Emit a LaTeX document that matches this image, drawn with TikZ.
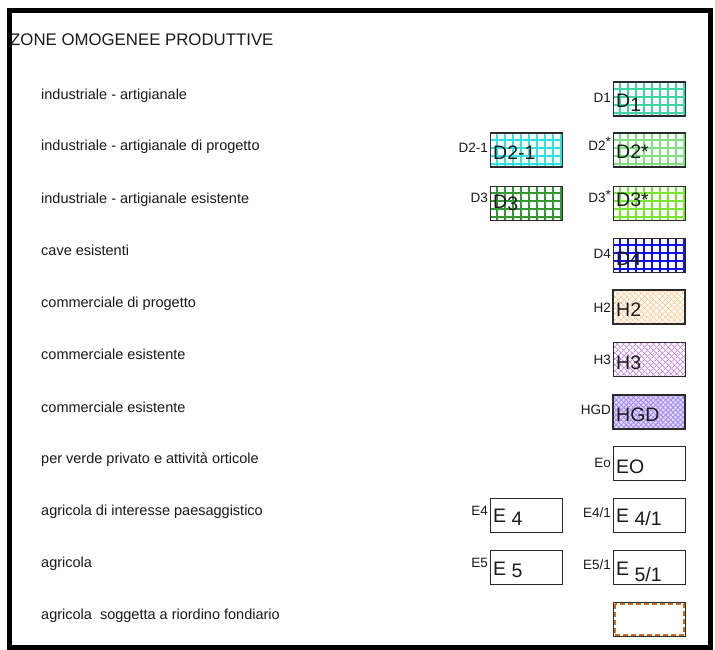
\documentclass[tikz,border=0pt]{standalone}
\usepackage{fontspec}
\setmainfont{Liberation Sans}
\usetikzlibrary{patterns.meta}
\definecolor{boxc}{HTML}{2A2A2A}
\definecolor{cDa}{HTML}{3DD6A3}
\definecolor{cDb}{HTML}{33E0E0}
\definecolor{cDc}{HTML}{7FE07F}
\definecolor{cDd}{HTML}{339933}
\definecolor{cDe}{HTML}{77E633}
\definecolor{cDf}{HTML}{1010F0}
\definecolor{cHa}{HTML}{FFC98F}
\definecolor{cHb}{HTML}{CC8EE8}
\definecolor{cHc}{HTML}{A48CF4}
\definecolor{cHcbg}{HTML}{E2DAFC}
\definecolor{dashc}{HTML}{D2691E}
\definecolor{txt}{HTML}{1A1A1A}
\begin{document}
\begin{tikzpicture}[x=1pt,y=-1pt,
  zbox/.style={draw=boxc, line width=1.5pt, minimum width=72pt, minimum height=34pt, inner sep=0pt, anchor=north west},
  lbl/.style={anchor=base west, font=\fontsize{14.5}{17}\selectfont, inner sep=0pt, text=txt},
  tag/.style={anchor=base east, font=\fontsize{13.5}{16}\selectfont, inner sep=0pt, text=txt},
  big/.style={anchor=base west, font=\fontsize{19.5}{22}\selectfont, inner sep=0pt, text=txt},
  title/.style={anchor=base west, font=\fontsize{16.8}{19}\selectfont, inner sep=0pt, text=txt},
  grid fill/.style={path picture={
    \foreach \i in {1,...,9} \draw[#1,line width=1.6pt] ([xshift=\i*8pt-1pt]path picture bounding box.north west) -- ([xshift=\i*8pt-1pt]path picture bounding box.south west);
    \foreach \j in {1,...,4} \draw[#1,line width=1.6pt] ([yshift=-\j*8pt+1pt]path picture bounding box.north west) -- ([yshift=-\j*8pt+1pt]path picture bounding box.north east);
  }},
  hatch/.style 2 args={preaction={pattern={Lines[angle=45,distance=#2,line width=0.9pt]},pattern color=#1}, pattern={Lines[angle=-45,distance=#2,line width=0.9pt]}, pattern color=#1},
]
\useasboundingbox (0,0) rectangle (715,650);
\fill[white] (0,0) rectangle (715,650);
% frame
\draw[line width=5pt] (9.5,10.5) rectangle (710.5,647.5);
% title
\node[title] (ttl) at (10,46) {ZONE OMOGENEE PRODUTTIVE};
% left labels
\node[lbl] (l1) at (41,99.5) {industriale - artigianale};
\node[lbl] (l2) at (41,150.5) {industriale - artigianale di progetto};
\node[lbl] (l3) at (41,203.5) {industriale - artigianale esistente};
\node[lbl] (l4) at (41,255.5) {cave esistenti};
\node[lbl] (l5) at (41,307.5) {commerciale di progetto};
\node[lbl] (l6) at (41,359.5) {commerciale esistente};
\node[lbl] (l7) at (41,412) {commerciale esistente};
\node[lbl] (l8) at (41,463.5) {per verde privato e attività orticole};
\node[lbl] (l9) at (41,515.5) {agricola di interesse paesaggistico};
\node[lbl] (l10) at (41,567.5) {agricola};
\node[lbl] (l11) at (41,619.5) {agricola\ \ soggetta a riordino fondiario};
% row 1
\node[zbox, grid fill=cDa] (d1) at (612.5,81.5) {};
\node[big] (d1t) at (616,108) {D\raisebox{-4pt}{1}};
\node[tag] (d1g) at (611,103) {D1};
% row 2
\node[zbox, grid fill=cDb] (d21) at (489.5,132.5) {};
\node[big] (d21t) at (493,160) {D2-1};
\node[tag] (d21g) at (488,153) {D2-1};
\node[zbox, grid fill=cDc] (d2s) at (612.5,132.5) {};
\node[big] (d2st) at (616,158) {D2*};
\node[tag] (d2sg) at (611,150) {D2\raisebox{3pt}{*}};
% row 3
\node[zbox, grid fill=cDd] (d3) at (489.5,185.5) {};
\node[big] (d3t) at (493,208) {D\raisebox{-2pt}{3}};
\node[tag] (d3g) at (488,202.5) {D3};
\node[zbox, grid fill=cDe] (d3s) at (612.5,185.5) {};
\node[big] (d3st) at (616,207) {D3*};
\node[tag] (d3sg) at (611,202.5) {D3\raisebox{3pt}{*}};
% row 4
\node[zbox, grid fill=cDf] (d4) at (612.5,237.5) {};
\node[big] (d4t) at (616,265) {D4};
\node[tag] (d4g) at (611,258) {D4};
% row 5
\node[zbox, hatch={cHa}{4pt}] (h2) at (612.5,289.5) {};
\node[big] (h2t) at (616,316) {H2};
\node[tag] (h2g) at (611,312) {H2};
% row 6
\node[zbox, hatch={cHb}{4pt}] (h3) at (612.5,341.5) {};
\node[big] (h3t) at (616,369) {H3};
\node[tag] (h3g) at (611,364) {H3};
% row 7
\node[zbox, preaction={fill=cHcbg}, hatch={cHc}{3.5pt}] (hgd) at (612.5,394.5) {};
\node[big] (hgdt) at (616,421) {HGD};
\node[tag] (hgdg) at (611,414) {HGD};
% row 8
\node[zbox] (eo) at (612.5,445.5) {};
\node[big] (eot) at (616,473) {EO};
\node[tag] (eog) at (611,467) {Eo};
% row 9
\node[zbox] (e4) at (489.5,497.5) {};
\node[big] (e4t) at (493,522) {E \raisebox{-3pt}{4}};
\node[tag] (e4g) at (488,515) {E4};
\node[zbox] (e41) at (612.5,497.5) {};
\node[big] (e41t) at (616,522) {E \raisebox{-3pt}{4/1}};
\node[tag] (e41g) at (611,517) {E4/1};
% row 10
\node[zbox] (e5) at (489.5,549.5) {};
\node[big] (e5t) at (493,575) {E \raisebox{-2pt}{5}};
\node[tag] (e5g) at (488,567) {E5};
\node[zbox] (e51) at (612.5,549.5) {};
\node[big] (e51t) at (616,575) {E \raisebox{-6pt}{5/1}};
\node[tag] (e51g) at (611,569) {E5/1};
% row 11
\node[zbox] (rf) at (612.5,601.5) {};
\draw[dashc, line width=2pt, dash pattern=on 5pt off 3pt] ([xshift=2pt,yshift=-2pt]rf.north west) rectangle ([xshift=-2pt,yshift=2pt]rf.south east);
\end{tikzpicture}
\end{document}
